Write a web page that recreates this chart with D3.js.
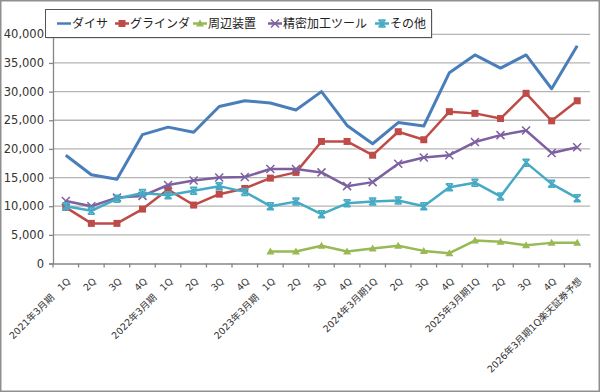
<!DOCTYPE html>
<html><head><meta charset="utf-8">
<script src="https://cdn.jsdelivr.net/npm/d3@7"></script>
<style>
html,body{margin:0;padding:0;background:#fff;}
svg{display:block;}
</style></head>
<body>
<svg id="chart" width="600" height="392"></svg>
<script>
const categories = ["2021年3月期　1Q","2Q","3Q","4Q","2022年3月期　1Q","2Q","3Q","4Q","2023年3月期　1Q","2Q","3Q","4Q","2024年3月期1Q","2Q","3Q","4Q","2025年3月期1Q","2Q","3Q","4Q","2026年3月期1Q楽天証券予想"];
const seriesNames = ["ダイサ","グラインダ","周辺装置","精密加工ツール","その他"];
const dicer = [18900,15500,14700,22500,23800,22900,27400,28400,28000,26800,30000,24100,20900,24600,24000,33300,36400,34100,36400,30500,38000];
const grinder = [9800,7000,7000,9500,12900,10200,12100,13100,14900,15900,21300,21300,18900,23000,21600,26500,26200,25300,29700,24900,28400];
const peripheral = [null,null,null,null,null,null,null,null,2100,2100,3100,2100,2600,3100,2200,1800,4000,3800,3200,3600,3600];
const precision = [10900,10000,11500,11800,13700,14500,15000,15100,16500,16500,15900,13500,14200,17400,18500,18900,21200,22400,23200,19300,20300];
const others = [10000,9200,11300,12300,11900,12700,13500,12500,10000,10800,8600,10500,10800,11000,10000,13300,14100,11700,17600,13900,11400];
const yTicks = [0,5000,10000,15000,20000,25000,30000,35000,40000];
const colors = ["#4a7ebb","#be4b48","#98b954","#7d60a0","#46aac5"];
const markers = ["none","square","triangle","cross","star"];

const svg = d3.select("#chart");
const W = 600, H = 392;
const L = 53, R = 590, T = 34.3, B = 263.5;

svg.append("rect").attr("x",0.75).attr("y",0.75).attr("width",W-1.5).attr("height",H-1.5)
  .attr("fill","#fff").attr("stroke","#8f8f8f").attr("stroke-width",1.5);

const x = d3.scaleBand().domain(categories.map((c,i)=>i)).range([L,R]).padding(0);
const y = d3.scaleLinear().domain([0,40000]).range([B,T]);
const cx = i => x(i) + x.bandwidth()/2;

// gridlines
svg.append("g").selectAll("line").data(yTicks.filter(d=>d>0)).join("line")
  .attr("x1",L).attr("x2",R).attr("y1",d=>y(d)).attr("y2",d=>y(d))
  .attr("stroke","#b4b4b4").attr("stroke-width",1.3);

// y axis
const yAxis = d3.axisLeft(y).tickValues(yTicks).tickFormat(d3.format(",")).tickSizeOuter(0).tickSize(4).tickPadding(5);
const gy = svg.append("g").attr("transform",`translate(${L},0)`).call(yAxis);
gy.select(".domain").attr("stroke","#868686").attr("stroke-width",1.3);
gy.selectAll(".tick line").attr("stroke","#868686").attr("stroke-width",1.3);
gy.selectAll("text").attr("font-family","'DejaVu Sans', Verdana, sans-serif").attr("font-size","11.5px").attr("fill","#333");

// x axis
const xAxis = d3.axisBottom(x).tickSize(0).tickFormat(i=>categories[i]);
const gx = svg.append("g").attr("transform",`translate(0,${B})`).call(xAxis);
gx.select(".domain").attr("stroke","#868686").attr("stroke-width",1.3);
gx.selectAll(".tick text")
  .attr("font-family","'DejaVu Sans', 'Noto Sans CJK JP', sans-serif")
  .attr("font-size","9.5px").attr("fill","#333")
  .attr("text-anchor","end")
  .attr("y",0).attr("dy","0.35em")
  .attr("transform","translate(3,16) rotate(-45)");
// boundary ticks
svg.append("g").selectAll("line").data(d3.range(categories.length+1)).join("line")
  .attr("x1",i=>L + i*x.bandwidth()).attr("x2",i=>L + i*x.bandwidth())
  .attr("y1",B).attr("y2",B+4).attr("stroke","#868686").attr("stroke-width",1.3);

function drawMarker(g, type, px, py, color){
  if(type==="square"){
    g.append("rect").attr("x",px-3.5).attr("y",py-3.5).attr("width",7).attr("height",7).attr("fill",color);
  } else if(type==="triangle"){
    g.append("path").attr("d",`M${px},${py-4}L${px+4},${py+3}L${px-4},${py+3}Z`).attr("fill",color);
  } else if(type==="cross"){
    g.append("path").attr("d",`M${px-4},${py-4}L${px+4},${py+4}M${px-4},${py+4}L${px+4},${py-4}`)
      .attr("stroke",color).attr("stroke-width",1.5).attr("fill","none");
  } else if(type==="star"){
    g.append("path").attr("d",`M${px-3.5},${py-3.5}L${px+3.5},${py+3.5}M${px-3.5},${py+3.5}L${px+3.5},${py-3.5}M${px},${py-4}L${px},${py+4}M${px-3.5},${py-3.5}L${px+3.5},${py-3.5}M${px-3.5},${py+3.5}L${px+3.5},${py+3.5}`)
      .attr("stroke",color).attr("stroke-width",1.5).attr("fill","none");
  }
}

const allSeries = [dicer, grinder, peripheral, precision, others];
const drawOrder = [0,1,2,3,4];
const line = d3.line().defined(d=>d.v!=null).x(d=>cx(d.i)).y(d=>y(d.v));
drawOrder.forEach(s=>{
  const data = allSeries[s].map((v,i)=>({i,v}));
  const g = svg.append("g");
  g.append("path").attr("d",line(data)).attr("fill","none")
    .attr("stroke",colors[s]).attr("stroke-width", s===0?3:2.5).attr("stroke-linejoin","round");
  data.filter(d=>d.v!=null).forEach(d=>drawMarker(g, markers[s], cx(d.i), y(d.v), colors[s]));
});

// legend
const lg = svg.append("g");
lg.append("rect").attr("x",46.5).attr("y",10.5).attr("width",386).attr("height",28).attr("fill","#9a9a9a").attr("opacity",0.5);
lg.append("rect").attr("x",45.5).attr("y",9.5).attr("width",386).attr("height",28).attr("fill","#fff").attr("stroke","#555").attr("stroke-width",1);
const legendX = [57,115,193,268,375];
seriesNames.forEach((n,s)=>{
  const lx = legendX[s], ly = 23.5;
  lg.append("line").attr("x1",lx).attr("x2",lx+14).attr("y1",ly).attr("y2",ly).attr("stroke",colors[s]).attr("stroke-width",2.5);
  drawMarker(lg, markers[s], lx+7, ly, colors[s]);
  lg.append("text").attr("x",lx+15).attr("y",ly).attr("dy","0.36em")
    .attr("font-family","'Noto Sans CJK JP', sans-serif").attr("font-size","12px").attr("fill","#222").text(n);
});
</script>
</body></html>
